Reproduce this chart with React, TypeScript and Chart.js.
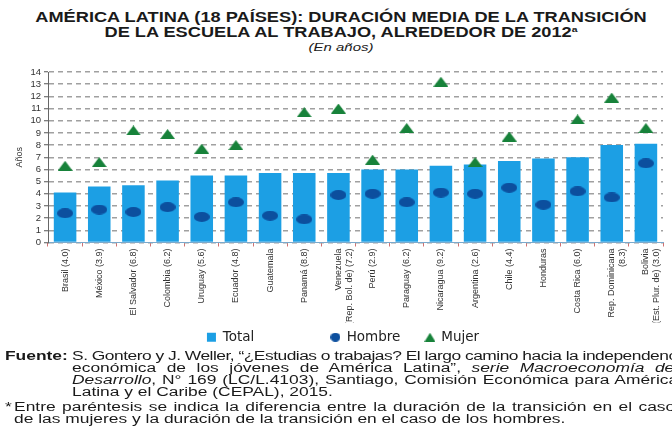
import React, { useEffect, useRef } from "react";
import { Chart, registerables } from "chart.js";

Chart.register(...registerables);

const categories: (string | string[])[] = [
  "Brasil (4.0)",
  "México (3.9)",
  "El Salvador (6.8)",
  "Colombia (6.2)",
  "Uruguay (5.6)",
  "Ecuador (4.8)",
  "Guatemala",
  "Panamá (8.8)",
  ["Venezuela", "(Rep. Bol. de) (7.2)"],
  "Perú (2.9)",
  "Paraguay (6.2)",
  "Nicaragua (9.2)",
  "Argentina (2.6)",
  "Chile (4.4)",
  "Honduras",
  "Costa Rica (6.0)",
  ["Rep. Dominicana", "(8.3)"],
  ["Bolivia", "(Est. Plur. de) (3.0)"],
];

const total = [4.1, 4.6, 4.7, 5.1, 5.5, 5.5, 5.7, 5.7, 5.7, 6.0, 6.0, 6.3, 6.4, 6.7, 6.9, 7.0, 8.0, 8.1];
const hombre = [2.4, 2.7, 2.5, 2.9, 2.1, 3.3, 2.2, 1.9, 3.9, 4.0, 3.3, 4.1, 4.0, 4.5, 3.1, 4.2, 3.7, 6.5];
const mujer = [6.3, 6.6, 9.2, 8.9, 7.7, 8.0, null, 10.7, 11.0, 6.8, 9.4, 13.2, 6.6, 8.7, null, 10.1, 11.9, 9.4];

const seriesLabels = ["Total", "Hombre", "Mujer"];
const yTicksMax = 14;

const BLUE = "#1c9fe4";
const DARK = "#0c4f9e";
const GREEN = "#17823a";

// trailing spacing (in space characters) after each legend entry, to reproduce the legend's uneven gaps
const legendGaps = [16, 4, 0];

function makeEllipse(w: number, h: number, color: string) {
  const c = document.createElement("canvas");
  c.width = w;
  c.height = h;
  const ctx = c.getContext("2d")!;
  ctx.fillStyle = color;
  ctx.beginPath();
  ctx.ellipse(w / 2, h / 2, w / 2, h / 2, 0, 0, Math.PI * 2);
  ctx.fill();
  return c;
}

function makeTriangle(w: number, h: number, color: string) {
  const c = document.createElement("canvas");
  c.width = w;
  c.height = h;
  const ctx = c.getContext("2d")!;
  ctx.fillStyle = color;
  ctx.beginPath();
  ctx.moveTo(w / 2, 0);
  ctx.lineTo(w, h);
  ctx.lineTo(0, h);
  ctx.closePath();
  ctx.fill();
  return c;
}

export default function App() {
  const canvasRef = useRef<HTMLCanvasElement | null>(null);

  useEffect(() => {
    if (!canvasRef.current) return;
    const ellipse = makeEllipse(16, 10, DARK);
    const tri = makeTriangle(15, 10, GREEN);
    const ellipseSmall = makeEllipse(10, 9, DARK);
    const triSmall = makeTriangle(11, 9, GREEN);

    const chart = new Chart(canvasRef.current, {
      type: "bar",
      data: {
        labels: categories,
        datasets: [
          {
            type: "bar",
            label: seriesLabels[0],
            data: total,
            backgroundColor: BLUE,
            categoryPercentage: 1,
            barPercentage: 0.66,
            order: 3,
          },
          {
            type: "line",
            label: seriesLabels[1],
            data: hombre,
            showLine: false,
            pointStyle: ellipse as any,
            pointRadius: 8,
            order: 1,
          },
          {
            type: "line",
            label: seriesLabels[2],
            data: mujer,
            showLine: false,
            pointStyle: tri as any,
            pointRadius: 8,
            order: 2,
          },
        ] as any,
      },
      options: {
        responsive: false,
        animation: false,
        layout: { padding: { top: 72, left: 14, right: 0, bottom: 0 } },
        plugins: {
          tooltip: { enabled: false },
          legend: {
            position: "bottom",
            labels: {
              usePointStyle: true,
              boxWidth: 9,
              boxHeight: 9,
              padding: 8,
              color: "#222",
              font: { family: "DejaVu Sans", size: 13.5 },
              sort: (a: any, b: any) => a.datasetIndex - b.datasetIndex,
              generateLabels: (ch: any) => {
                const items = Chart.defaults.plugins.legend.labels.generateLabels(ch);
                return items.map((it: any) => {
                  const text = it.text + " ".repeat(legendGaps[it.datasetIndex] || 0);
                  if (it.datasetIndex === 0) {
                    return { ...it, text, pointStyle: "rect", fillStyle: BLUE, strokeStyle: BLUE, lineWidth: 0 };
                  }
                  if (it.datasetIndex === 1) return { ...it, text, pointStyle: ellipseSmall };
                  return { ...it, text, pointStyle: triSmall };
                });
              },
            },
          },
        },
        scales: {
          x: {
            ticks: {
              minRotation: 90,
              maxRotation: 90,
              autoSkip: false,
              color: "#333",
              padding: 2,
              font: { family: "Liberation Sans", size: 9 },
            },
            grid: {
              drawOnChartArea: false,
              drawTicks: true,
              tickLength: 4,
              tickColor: "#d07272",
              offset: true,
            },
            border: { display: true, color: "#7aa9cc", width: 1 },
            afterFit: (s: any) => {
              s.height = 80;
            },
          },
          y: {
            min: 0,
            max: yTicksMax,
            ticks: {
              stepSize: 1,
              autoSkip: false,
              color: "#333",
              padding: 3,
              font: { family: "Liberation Sans", size: 9.5 },
            },
            grid: {
              color: "#a0a0a0",
              lineWidth: 1.5,
              drawTicks: true,
              tickLength: 4,
              tickColor: "#555",
              tickWidth: 1,
              tickBorderDash: [],
            },
            border: { display: true, color: "#666", width: 1, dash: [5, 4] },
            title: {
              display: true,
              text: "Años",
              color: "#333",
              font: { family: "Liberation Sans", size: 9 },
              padding: { top: 0, bottom: 0 },
            },
            afterFit: (s: any) => {
              s.width = 34;
            },
          },
        },
      } as any,
    });
    return () => chart.destroy();
  }, []);

  const lineStyle = (justify: boolean, spacing = 0): React.CSSProperties => ({
    whiteSpace: "nowrap",
    textAlign: justify ? "justify" : "left",
    textAlignLast: justify ? "justify" : "left",
    letterSpacing: spacing,
    height: 12,
  });

  return (
    <div
      style={{
        position: "absolute",
        left: 0,
        top: 0,
        width: 672,
        height: 432,
        overflow: "hidden",
        background: "#fff",
        color: "#1a1a1a",
        fontFamily: '"Liberation Sans", Arial, sans-serif',
      }}
    >
      <div
        style={{
          position: "absolute",
          left: 0,
          top: 10,
          width: 682,
          textAlign: "center",
          transform: "scaleX(1.3)",
          transformOrigin: "341px 0",
        }}
      >
        <div style={{ font: 'bold 14px/15px "Liberation Sans", Arial, sans-serif', whiteSpace: "nowrap" }}>
          AMÉRICA LATINA (18 PAÍSES): DURACIÓN MEDIA DE LA TRANSICIÓN
        </div>
        <div style={{ font: 'bold 14px/15px "Liberation Sans", Arial, sans-serif', whiteSpace: "nowrap" }}>
          DE LA ESCUELA AL TRABAJO, ALREDEDOR DE 2012
          <span style={{ fontSize: 8, verticalAlign: "top", lineHeight: "10px" }}>a</span>
        </div>
        <div style={{ font: 'italic 11.5px/14px "Liberation Sans", Arial, sans-serif' }}>(En años)</div>
      </div>

      <canvas
        ref={canvasRef}
        width={672}
        height={354}
        style={{ position: "absolute", left: 0, top: 0, width: 672, height: 354 }}
      />

      <div
        style={{
          position: "absolute",
          left: 0,
          top: 350,
          width: 464,
          height: 82,
          transform: "scaleX(1.45)",
          transformOrigin: "0 0",
          font: '12px/12px "Liberation Sans", Arial, sans-serif',
          color: "#1a1a1a",
        }}
      >
        <div style={{ position: "absolute", left: 3.45, top: 0, fontWeight: "bold" }}>Fuente:</div>
        <div style={{ position: "absolute", left: 49.7, top: 0, width: 418 }}>
          <div style={lineStyle(true, -0.35)}>
            S. Gontero y J. Weller, “¿Estudias o trabajas? El largo camino hacia la independencia
          </div>
          <div style={lineStyle(true)}>
            económica de los jóvenes de América Latina”, <i>serie Macroeconomía del</i>
          </div>
          <div style={lineStyle(true)}>
            <i>Desarrollo</i>, N° 169 (LC/L.4103), Santiago, Comisión Económica para América
          </div>
          <div style={lineStyle(false)}>Latina y el Caribe (CEPAL), 2015.</div>
        </div>
        <div style={{ position: "absolute", left: 3.45, top: 51 }}>*</div>
        <div style={{ position: "absolute", left: 9.7, top: 51, width: 456 }}>
          <div style={lineStyle(true)}>
            Entre paréntesis se indica la diferencia entre la duración de la transición en el caso
          </div>
          <div style={lineStyle(false)}>
            de las mujeres y la duración de la transición en el caso de los hombres.
          </div>
        </div>
      </div>
    </div>
  );
}
